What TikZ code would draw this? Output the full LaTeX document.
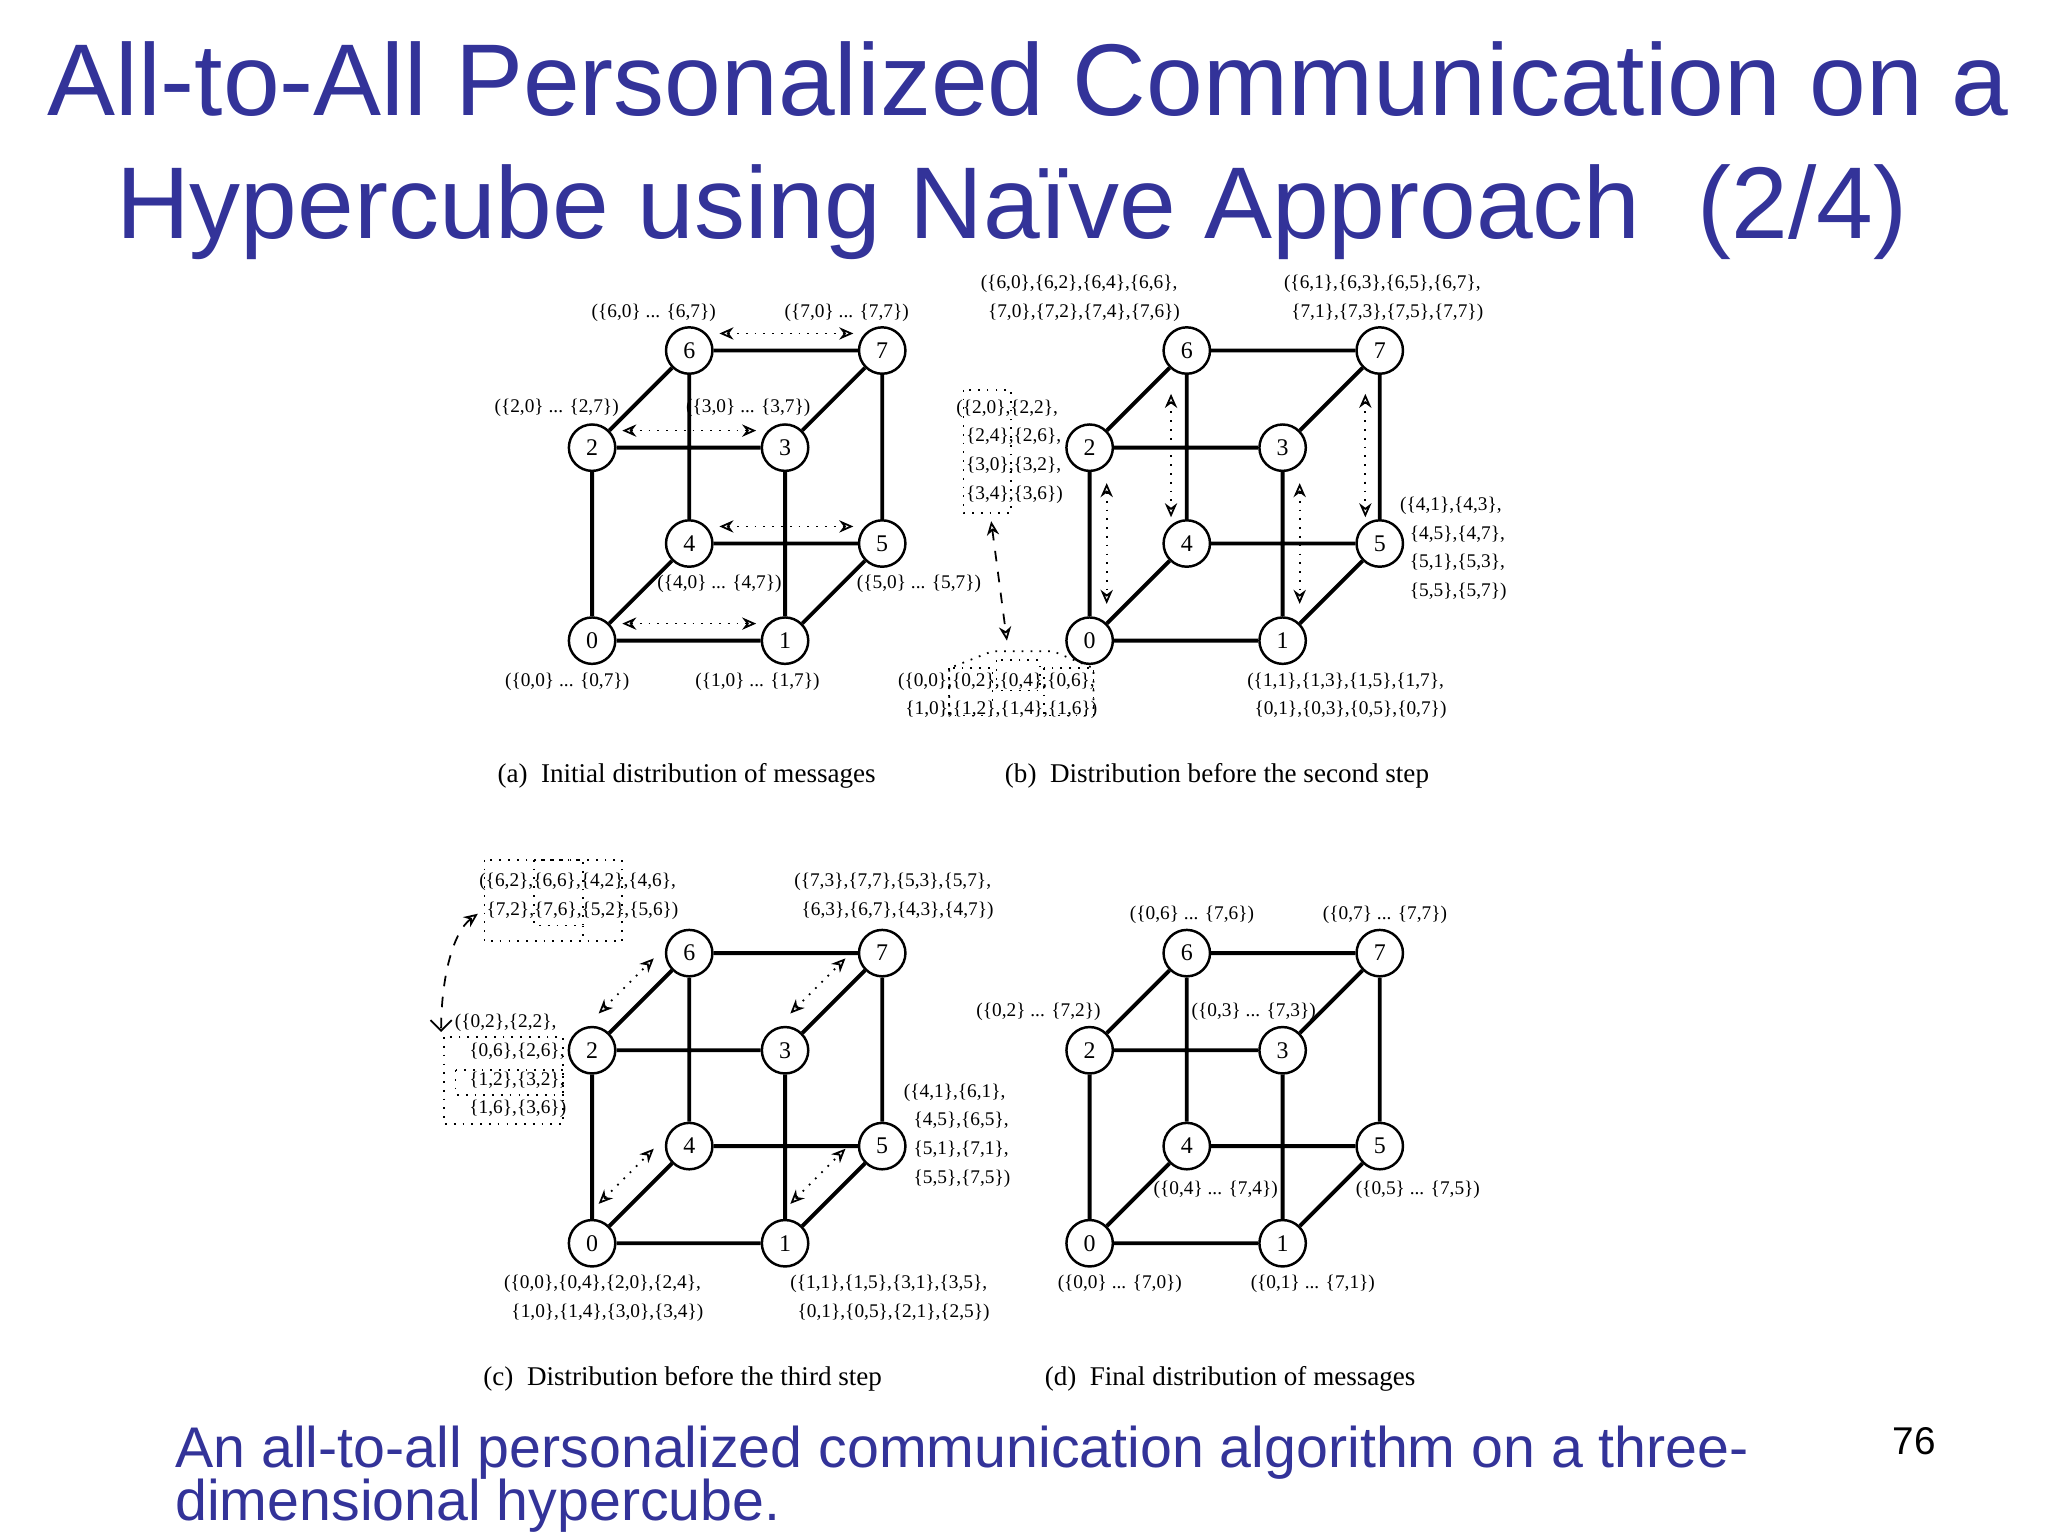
\documentclass[tikz,border=0pt]{standalone}
\usepackage{fontspec}
\setmainfont{Liberation Serif}
\newfontfamily\arialf{Liberation Sans}
\usetikzlibrary{arrows.meta}
\definecolor{ttl}{RGB}{51,51,153}
\tikzset{
  vx/.style={circle,draw,line width=0.7pt,fill=white,minimum size=13.2pt,inner sep=0pt,font=\fontsize{6.8}{7}\selectfont},
  edge/.style={line width=1.1pt},
  lab/.style={inner sep=0pt,font=\fontsize{5.5}{8.2}\selectfont,align=center},
  labl/.style={lab,align=left,anchor=west},
  captxt/.style={inner sep=0pt,font=\fontsize{7.7}{9}\selectfont},
  dbl/.style={dotted,line width=0.5pt,{Stealth[open,length=4pt,width=3.5pt]}-{Stealth[open,length=4pt,width=3.5pt]}},
  dsh/.style={dashed,line width=0.5pt,{Stealth[open,length=4pt,width=3.5pt]}-{Stealth[open,length=4pt,width=3.5pt]}},
  dbox/.style={dotted,line width=0.5pt},
  ttlf/.style={ttl,font=\arialf\fontsize{29}{32}\selectfont,inner sep=0pt}
}
\newcommand\mycube[3]{%
\begin{scope}[shift={(#2,#3)}]
\node[vx] (#10) at (0,0) {0};
\node[vx] (#11) at (147,0) {1};
\node[vx] (#12) at (0,-147) {2};
\node[vx] (#13) at (147,-147) {3};
\node[vx] (#14) at (74,-74) {4};
\node[vx] (#15) at (221,-74) {5};
\node[vx] (#16) at (74,-221) {6};
\node[vx] (#17) at (221,-221) {7};
\end{scope}
\draw[edge] (#10)--(#11) (#10)--(#12) (#10)--(#14) (#11)--(#13) (#11)--(#15) (#12)--(#13)
 (#12)--(#16) (#13)--(#17) (#14)--(#15) (#14)--(#16) (#15)--(#17) (#16)--(#17);
}
\begin{document}
\begin{tikzpicture}[x=0.013128cm,y=-0.013128cm]
\useasboundingbox[fill=white] (0,0) rectangle (1560,1170);
% title
\node[ttlf,anchor=base] (t1) at (783,88) {All-to-All Personalized Communication on a};
\node[ttlf,anchor=base west] (t2) at (88,182) {Hypercube using Naïve Approach\ \ (2/4)};
% cubes
\mycube{a}{451}{488}
\mycube{b}{830}{488}
\mycube{c}{451}{947}
\mycube{d}{830}{947}
% (a)
\node[lab] (la6) at (498,238) {(\{6,0\} ... \{6,7\})};
\node[lab] (la7) at (645,238) {(\{7,0\} ... \{7,7\})};
\node[lab] (la2) at (424,311) {(\{2,0\} ... \{2,7\})};
\node[lab] (la3) at (570,311) {(\{3,0\} ... \{3,7\})};
\node[lab] (la4) at (548,445) {(\{4,0\} ... \{4,7\})};
\node[lab] (la5) at (700,445) {(\{5,0\} ... \{5,7\})};
\node[lab] (la0) at (432,519) {(\{0,0\} ... \{0,7\})};
\node[lab] (la1) at (577,519) {(\{1,0\} ... \{1,7\})};
\coordinate (pa1) at (548,254); \coordinate (pa2) at (650,254);
\coordinate (pa3) at (474,328); \coordinate (pa4) at (576,328);
\coordinate (pa5) at (548,401); \coordinate (pa6) at (650,401);
\coordinate (pa7) at (474,475); \coordinate (pa8) at (576,475);
\draw[dbl] (pa1)--(pa2); \draw[dbl] (pa3)--(pa4); \draw[dbl] (pa5)--(pa6); \draw[dbl] (pa7)--(pa8);
\node[captxt] (capa) at (523,591) {(a)\ \ Initial distribution of messages};
% (b)
\node[lab] (lb6) at (822,227) {(\{6,0\},\{6,2\},\{6,4\},\{6,6\},\\\ \ \{7,0\},\{7,2\},\{7,4\},\{7,6\})};
\node[lab] (lb7) at (1053,227) {(\{6,1\},\{6,3\},\{6,5\},\{6,7\},\\\ \ \{7,1\},\{7,3\},\{7,5\},\{7,7\})};
\node[labl] (lb2) at (728,344) {(\{2,0\},\{2,2\},\\\ \ \{2,4\},\{2,6\},\\\ \ \{3,0\},\{3,2\},\\\ \ \{3,4\},\{3,6\})};
\node[labl] (lb5) at (1066,418) {(\{4,1\},\{4,3\},\\\ \ \{4,5\},\{4,7\},\\\ \ \{5,1\},\{5,3\},\\\ \ \{5,5\},\{5,7\})};
\node[lab] (lb0) at (759,530) {(\{0,0\},\{0,2\},\{0,4\},\{0,6\},\\\ \ \{1,0\},\{1,2\},\{1,4\},\{1,6\})};
\node[lab] (lb1) at (1025,530) {(\{1,1\},\{1,3\},\{1,5\},\{1,7\},\\\ \ \{0,1\},\{0,3\},\{0,5\},\{0,7\})};
\draw[dbox] (734,297) rectangle (770,391);
\draw[dbox] (723,545)--(723,509)--(756,496)--(802,496)--(833,509)--(833,545);
\draw[dbox] (723,509) rectangle (756,545);
\draw[dbox] (759,503) rectangle (792,526);
\draw[dbox] (795,509) rectangle (833,545);
\coordinate (pb0) at (755,397); \coordinate (pb00) at (767,488);
\draw[dsh] (pb0)--(pb00);
\coordinate (pb1) at (843,368); \coordinate (pb2) at (843,460);
\coordinate (pb3) at (892,300); \coordinate (pb4) at (892,394);
\coordinate (pb5) at (990,368); \coordinate (pb6) at (990,460);
\coordinate (pb7) at (1040,300); \coordinate (pb8) at (1040,394);
\draw[dbl] (pb1)--(pb2); \draw[dbl] (pb3)--(pb4); \draw[dbl] (pb5)--(pb6); \draw[dbl] (pb7)--(pb8);
\node[captxt] (capb) at (927,591) {(b)\ \ Distribution before the second step};
% (c)
\node[lab] (lc6) at (440,683) {(\{6,2\},\{6,6\},\{4,2\},\{4,6\},\\\ \ \{7,2\},\{7,6\},\{5,2\},\{5,6\})};
\node[lab] (lc7) at (680,683) {(\{7,3\},\{7,7\},\{5,3\},\{5,7\},\\\ \ \{6,3\},\{6,7\},\{4,3\},\{4,7\})};
\node[labl] (lc2) at (346,812) {(\{0,2\},\{2,2\},\\\ \ \ \{0,6\},\{2,6\},\\\ \ \ \{1,2\},\{3,2\},\\\ \ \ \{1,6\},\{3,6\})};
\node[labl] (lc5) at (688,865) {(\{4,1\},\{6,1\},\\\ \ \{4,5\},\{6,5\},\\\ \ \{5,1\},\{7,1\},\\\ \ \{5,5\},\{7,5\})};
\node[lab] (lc0) at (459,989) {(\{0,0\},\{0,4\},\{2,0\},\{2,4\},\\\ \ \{1,0\},\{1,4\},\{3,0\},\{3,4\})};
\node[lab] (lc1) at (677,989) {(\{1,1\},\{1,5\},\{3,1\},\{3,5\},\\\ \ \{0,1\},\{0,5\},\{2,1\},\{2,5\})};
\draw[dbox] (369,655) rectangle (474,717);
\draw[dbox] (407,655) rectangle (444,705);
\draw[dbox] (444,705)--(444,717);
\draw[dbox] (338,790) rectangle (429,856);
\draw[dbox] (347,815) rectangle (429,834);
\coordinate (pc0) at (364,696); \coordinate (pc00) at (336,786);
\draw[dashed,line width=0.5pt,{Stealth[open,length=4pt,width=3.5pt]}-{Straight Barb[length=3pt]}] (pc0) .. controls (345,710) and (336,745) .. (pc00);
\coordinate (pc1) at (456,772); \coordinate (pc2) at (498,730);
\coordinate (pc3) at (602,772); \coordinate (pc4) at (644,730);
\coordinate (pc5) at (456,917); \coordinate (pc6) at (498,875);
\coordinate (pc7) at (602,917); \coordinate (pc8) at (644,875);
\draw[dbl] (pc1)--(pc2); \draw[dbl] (pc3)--(pc4); \draw[dbl] (pc5)--(pc6); \draw[dbl] (pc7)--(pc8);
\node[captxt] (capc) at (520,1050) {(c)\ \ Distribution before the third step};
% (d)
\node[lab] (ld6) at (908,697) {(\{0,6\} ... \{7,6\})};
\node[lab] (ld7) at (1055,697) {(\{0,7\} ... \{7,7\})};
\node[lab] (ld2) at (791,771) {(\{0,2\} ... \{7,2\})};
\node[lab] (ld3) at (955,771) {(\{0,3\} ... \{7,3\})};
\node[lab] (ld4) at (926,906) {(\{0,4\} ... \{7,4\})};
\node[lab] (ld5) at (1080,906) {(\{0,5\} ... \{7,5\})};
\node[lab] (ld0) at (853,978) {(\{0,0\} ... \{7,0\})};
\node[lab] (ld1) at (1000,978) {(\{0,1\} ... \{7,1\})};
\node[captxt] (capd) at (937,1050) {(d)\ \ Final distribution of messages};
% bottom
\node[ttl,font=\arialf\fontsize{16.3}{15}\selectfont,anchor=base west,inner sep=0pt] (bt1) at (133,1118) {An all-to-all personalized communication algorithm on a three-};
\node[ttl,font=\arialf\fontsize{16.3}{15}\selectfont,anchor=base west,inner sep=0pt] (bt2) at (133,1158) {dimensional hypercube.};
\node[font=\arialf\fontsize{11}{12}\selectfont,anchor=base,inner sep=0pt] (pg) at (1458,1108) {76};
\end{tikzpicture}
\end{document}
